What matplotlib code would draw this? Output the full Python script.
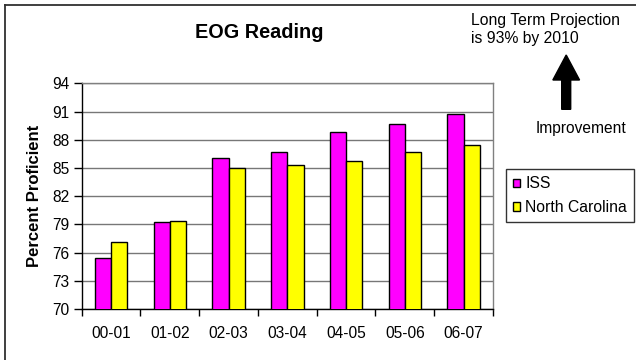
import matplotlib
matplotlib.use("Agg")
import matplotlib.pyplot as plt
import numpy as np
from matplotlib.patches import FancyArrow
from matplotlib.lines import Line2D

plt.rcParams['font.family'] = ['Liberation Sans', 'DejaVu Sans']

# School years and proficiency percentages
years = ["00-01", "01-02", "02-03", "03-04", "04-05", "05-06", "06-07"]
iss = [75.4, 79.3, 86.1, 86.7, 88.8, 89.7, 90.7]
north_carolina = [77.1, 79.4, 85.0, 85.3, 85.7, 86.7, 87.4]
y_ticks = [70, 73, 76, 79, 82, 85, 88, 91, 94]

W, H = 636, 360
fig = plt.figure(figsize=(W / 100, H / 100), dpi=100)
fig.patch.set_facecolor("white")

ax = fig.add_axes([81.7 / W, 1 - 309 / H, (493 - 81.7) / W, (309 - 83.3) / H])

x = np.arange(len(years))
bw = 0.278
ax.bar(x - bw / 2, iss, width=bw, color="#FF00FF",
       edgecolor="black", linewidth=1.0, label="ISS", zorder=3)
ax.bar(x + bw / 2, north_carolina, width=bw, color="#FFFF00",
       edgecolor="black", linewidth=1.0, label="North Carolina", zorder=3)

ax.set_ylim(70, 94)
ax.set_xlim(-0.5, len(years) - 0.5)
ax.set_yticks(y_ticks)
ax.set_yticklabels([str(v) for v in y_ticks], fontsize=11.2)
ax.yaxis.grid(True, color="#777777", linewidth=1.0, zorder=0)
ax.set_axisbelow(True)

# category boundaries carry the tick marks, labels sit at the centres
ax.set_xticks(x)
ax.set_xticklabels(years, fontsize=11.2)
ax.tick_params(axis="x", which="major", length=0, pad=12)
ax.set_xticks(np.arange(-0.5, len(years)), minor=True)
ax.tick_params(axis="x", which="minor", length=5, width=1, color="black")
ax.tick_params(axis="y", length=6, width=1, color="black", pad=3)

for s in ("top", "right"):
    ax.spines[s].set_color("#808080")
    ax.spines[s].set_linewidth(1.0)
for s in ("left", "bottom"):
    ax.spines[s].set_color("black")
    ax.spines[s].set_linewidth(1.0)

ax.set_ylabel("Percent Proficient", fontsize=12, fontweight="bold")
ax.yaxis.set_label_coords(-0.115, 0.5)
ax.yaxis.label.set_va("center")

fig.text(259 / W, 1 - 32 / H, "EOG Reading", fontsize=14.3, fontweight="bold",
         ha="center", va="center")

fig.text(470.7 / W, 1 - 29.5 / H, "Long Term Projection\nis 93% by 2010",
         fontsize=11.3, ha="left", va="center", linespacing=1.28)

fig.text(581 / W, 1 - 128.8 / H, "Improvement", fontsize=11.2, ha="center", va="center")

arrow = FancyArrow(5.662, (H - 109.3) / 100, 0, (109.3 - 55) / 100,
                   width=0.09, head_width=0.267, head_length=0.25,
                   length_includes_head=True, color="black",
                   transform=fig.dpi_scale_trans)
fig.add_artist(arrow)

leg = fig.legend(loc="upper left", bbox_to_anchor=(505.7 / W, 1 - 169.3 / H),
                 fontsize=11.3, frameon=True, fancybox=False, shadow=False,
                 handlelength=0.45, handleheight=0.45, handletextpad=0.35,
                 borderpad=0.45, labelspacing=0.55, borderaxespad=0)
leg.get_frame().set_edgecolor("black")
leg.get_frame().set_linewidth(1.0)

# outer chart frame (top and left edges in view)
fig.add_artist(Line2D([5 / W, 1], [1 - 5 / H, 1 - 5 / H], color="#303030",
                      linewidth=1.3, transform=fig.transFigure))
fig.add_artist(Line2D([5 / W, 5 / W], [0, 1 - 5 / H], color="#303030",
                      linewidth=1.3, transform=fig.transFigure))

fig.savefig("out.png", dpi=100)
